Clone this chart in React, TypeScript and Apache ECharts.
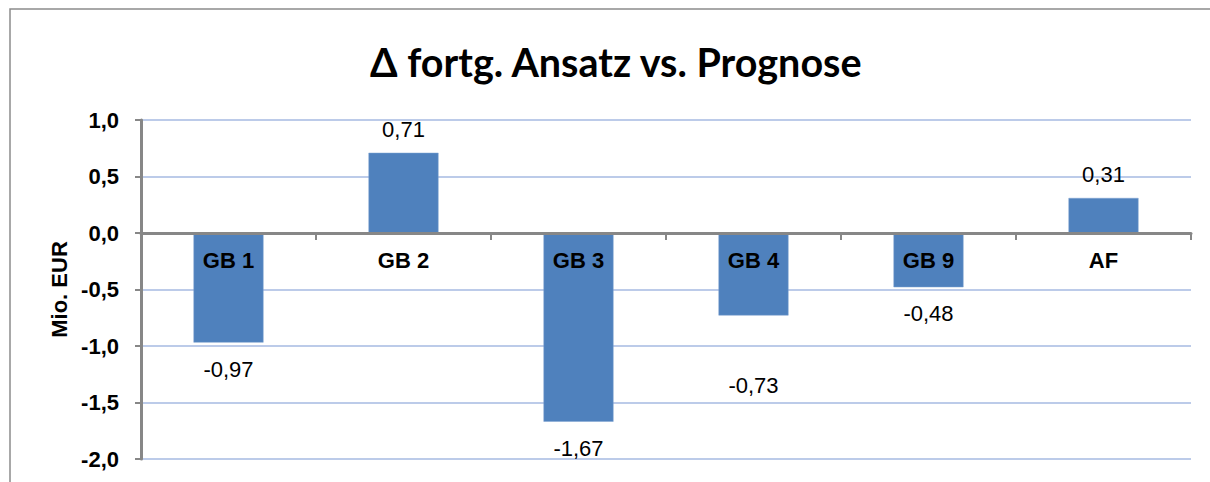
import React, { useEffect, useRef } from "react";
import * as echarts from "echarts";

const categories = ["GB 1", "GB 2", "GB 3", "GB 4", "GB 9", "AF"];
const values = [-0.97, 0.71, -1.67, -0.73, -0.48, 0.31];
const labelDistances = [16, 12, 16, 59, 15, 12];
const titleText = "\u0394 fortg. Ansatz vs. Prognose";
const yAxisName = "Mio. EUR";

const fmt = (v: number, d: number) => v.toFixed(d).replace(".", ",");

export default function App() {
  const ref = useRef<HTMLDivElement>(null);
  useEffect(() => {
    if (!ref.current) return;
    const chart = echarts.init(ref.current, null, { renderer: "svg" });
    chart.setOption({
      animation: false,
      backgroundColor: "#ffffff",
      title: {
        text: titleText,
        left: 365,
        top: 36,
        textStyle: {
          fontFamily: "Lato",
          fontWeight: "bold",
          fontSize: 39.5,
          color: "#000000",
        },
      },
      graphic: [
        {
          type: "rect",
          shape: { x: 10, y: 9, width: 1400, height: 600 },
          style: { fill: "none", stroke: "#8c8c8c", lineWidth: 1.5 },
          silent: true,
        },
      ],
      grid: { left: 141, right: 19, top: 120, bottom: 23, outerBoundsMode: "none" },
      xAxis: {
        type: "category",
        data: categories,
        z: 10,
        position: "bottom",
        offset: -226,
        axisLine: { onZero: false, lineStyle: { color: "#878787", width: 3 } },
        axisTick: { show: true, length: 7, lineStyle: { color: "#878787", width: 2 } },
        axisLabel: {
          margin: 16,
          fontFamily: "Liberation Sans",
          fontWeight: "bold",
          fontSize: 22,
          color: "#000000",
        },
      },
      yAxis: {
        type: "value",
        min: -2,
        max: 1,
        interval: 0.5,
        name: yAxisName,
        nameLocation: "middle",
        nameGap: 70,
        nameTextStyle: {
          fontFamily: "Liberation Sans",
          fontWeight: "bold",
          fontSize: 22,
          color: "#000000",
        },
        axisLine: { show: true, lineStyle: { color: "#878787", width: 3 } },
        axisTick: { show: true, length: 6, lineStyle: { color: "#878787", width: 2 } },
        axisLabel: {
          margin: 22,
          formatter: (v: number) => fmt(v, 1),
          fontFamily: "Liberation Sans",
          fontWeight: "bold",
          fontSize: 22,
          color: "#000000",
        },
        splitLine: { lineStyle: { color: "#bccbe9", width: 2 } },
      },
      series: [
        {
          type: "bar",
          barWidth: "40%",
          itemStyle: { color: "#4f81bd", borderColor: "#7fa3d0", borderWidth: 0.5 },
          data: values.map((v, i) => ({
            value: v,
            label: {
              show: true,
              position: v >= 0 ? "top" : "bottom",
              distance: labelDistances[i],
              formatter: fmt(v, 2),
              fontFamily: "Liberation Sans",
              fontSize: 22,
              color: "#000000",
            },
          })),
        },
      ],
    });
    return () => chart.dispose();
  }, []);
  return (
    <div
      ref={ref}
      style={{ position: "fixed", left: 0, top: 0, width: 1210, height: 482 }}
    />
  );
}
